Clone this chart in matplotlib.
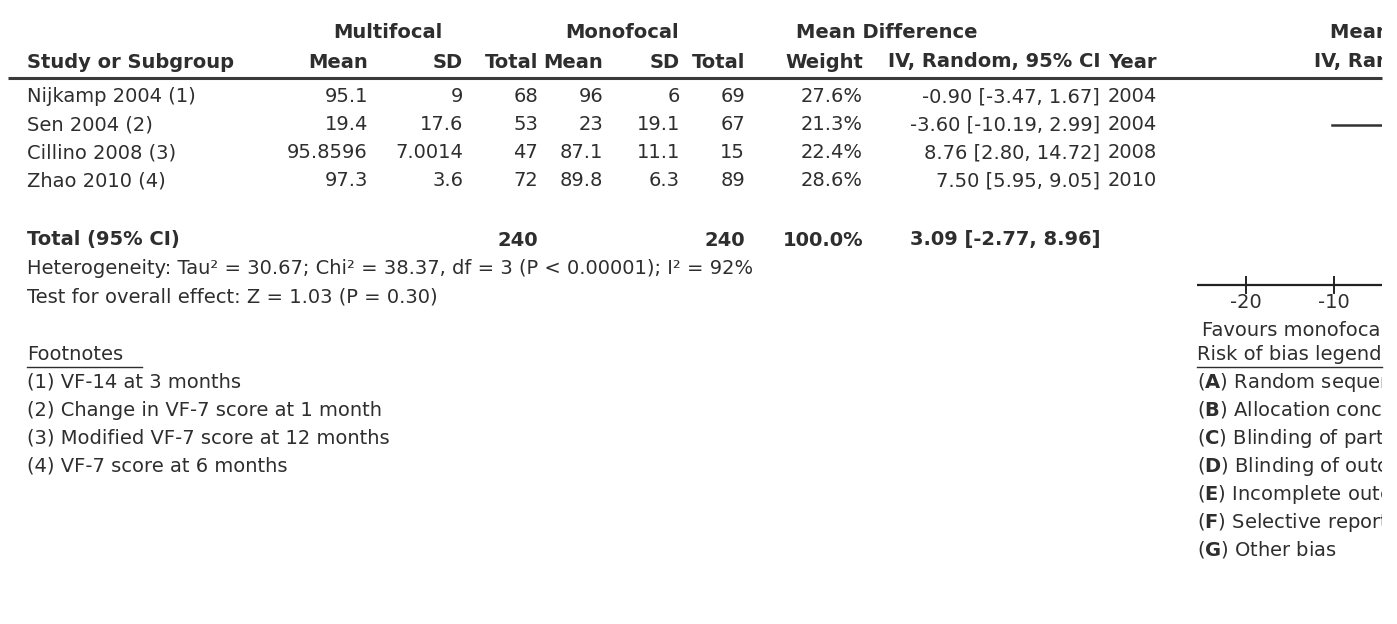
import matplotlib
matplotlib.use("Agg")
import matplotlib.pyplot as plt

# ---------------------------------------------------------------------------
# data
# ---------------------------------------------------------------------------
studies = ["Nijkamp 2004 (1)", "Sen 2004 (2)", "Cillino 2008 (3)", "Zhao 2010 (4)"]
multi_mean = [95.1, 19.4, 95.8596, 97.3]
multi_sd = [9, 17.6, 7.0014, 3.6]
multi_n = [68, 53, 47, 72]
mono_mean = [96, 23, 87.1, 89.8]
mono_sd = [6, 19.1, 11.1, 6.3]
mono_n = [69, 67, 15, 89]
weight = [27.6, 21.3, 22.4, 28.6]
md = [-0.90, -3.60, 8.76, 7.50]
ci_lo = [-3.47, -10.19, 2.80, 5.95]
ci_hi = [1.67, 2.99, 14.72, 9.05]
years = [2004, 2004, 2008, 2010]

total_multi_n = 240
total_mono_n = 240
total_weight = 100.0
total_md, total_lo, total_hi = 3.09, -2.77, 8.96

heterogeneity = "Heterogeneity: Tau\u00b2 = 30.67; Chi\u00b2 = 38.37, df = 3 (P < 0.00001); I\u00b2 = 92%"
overall = "Test for overall effect: Z = 1.03 (P = 0.30)"
footnotes = ["(1) VF-14 at 3 months",
             "(2) Change in VF-7 score at 1 month",
             "(3) Modified VF-7 score at 12 months",
             "(4) VF-7 score at 6 months"]
bias_letters = ["A", "B", "C", "D", "E", "F", "G"]
bias_items = ["Random sequence generation (selection bias)",
              "Allocation concealment (selection bias)",
              "Blinding of participants and personnel (performance bias)",
              "Blinding of outcome assessment (detection bias)",
              "Incomplete outcome data (attrition bias)",
              "Selective reporting (reporting bias)",
              "Other bias"]
ticks = [-20, -10, 0, 10, 20]
favours = ["Favours monofocal", "Favours multifocal"]

# ---------------------------------------------------------------------------
# layout (pixels)
# ---------------------------------------------------------------------------
W, H = 1397, 624
TXT = "#2e2e2e"
FS = 14
plt.rcParams['font.family'] = ['DejaVu Sans']

row_y = [97, 125, 153, 181]
total_y = 240
col_right = {"mm": 368, "msd": 463, "mn": 538, "om": 603, "osd": 680,
             "on": 745, "w": 863, "ci": 1100}
year_x = 1108

fig = plt.figure(figsize=(W / 100, H / 100), dpi=100)
ax = fig.add_axes([0, 0, 1, 1])
ax.set_xlim(0, W)
ax.set_ylim(H, 0)
ax.axis('off')

# forest panel, cut at the right edge like the source picture
px_per_unit = 8.83
fl, fr = 1197, 1382
x_lo = -25.5
fx = fig.add_axes([fl / W, 0, (fr - fl) / W, 1])
fx.set_xlim(x_lo, x_lo + (fr - fl) / px_per_unit)
fx.set_ylim(H, 0)
fx.axis('off')


def t(x, y, s, ha='left', bold=False, **kw):
    ax.text(x, y, s, ha=ha, va='center', fontsize=FS, color=TXT,
            fontweight='bold' if bold else 'normal', **kw)


def fmt(v):
    return "{:g}".format(v)


# headers
t(388, 33, "Multifocal", ha='center', bold=True)
t(622, 33, "Monofocal", ha='center', bold=True)
t(887, 33, "Mean Difference", ha='center', bold=True)
t(27, 62, "Study or Subgroup", bold=True)
t(col_right["mm"], 62, "Mean", ha='right', bold=True)
t(col_right["msd"], 62, "SD", ha='right', bold=True)
t(col_right["mn"], 62, "Total", ha='right', bold=True)
t(col_right["om"], 62, "Mean", ha='right', bold=True)
t(col_right["osd"], 62, "SD", ha='right', bold=True)
t(col_right["on"], 62, "Total", ha='right', bold=True)
t(col_right["w"], 62, "Weight", ha='right', bold=True)
t(col_right["ci"], 62, "IV, Random, 95% CI", ha='right', bold=True)
t(year_x, 62, "Year", bold=True)
ax.plot([8, fr], [78, 78], color="#3a3a3a", lw=2.2, solid_capstyle='butt')

# study rows
for i, y in enumerate(row_y):
    t(27, y, studies[i])
    t(col_right["mm"], y, fmt(multi_mean[i]), ha='right')
    t(col_right["msd"], y, fmt(multi_sd[i]), ha='right')
    t(col_right["mn"], y, str(multi_n[i]), ha='right')
    t(col_right["om"], y, fmt(mono_mean[i]), ha='right')
    t(col_right["osd"], y, fmt(mono_sd[i]), ha='right')
    t(col_right["on"], y, str(mono_n[i]), ha='right')
    t(col_right["w"], y, "{:.1f}%".format(weight[i]), ha='right')
    t(col_right["ci"], y, "{:.2f} [{:.2f}, {:.2f}]".format(md[i], ci_lo[i], ci_hi[i]), ha='right')
    t(year_x, y, str(years[i]))

# total row
t(27, total_y, "Total (95% CI)", bold=True)
t(col_right["mn"], total_y, str(total_multi_n), ha='right', bold=True)
t(col_right["on"], total_y, str(total_mono_n), ha='right', bold=True)
t(col_right["w"], total_y, "{:.1f}%".format(total_weight), ha='right', bold=True)
t(col_right["ci"], total_y, "{:.2f} [{:.2f}, {:.2f}]".format(total_md, total_lo, total_hi),
  ha='right', bold=True)
t(27, 268, heterogeneity)
t(27, 297, overall)

# footnotes
t(27, 354, "Footnotes")
ax.plot([27, 142], [367, 367], color=TXT, lw=1)
for k, s in enumerate(footnotes):
    t(27, 382 + 28 * k, s)

# ---------------------------------------------------------------------------
# forest plot (right, clipped)
# ---------------------------------------------------------------------------
def ft(x, y, s, ha='left', bold=False):
    fx.text(x, y, s, ha=ha, va='center', fontsize=FS, color=TXT,
            fontweight='bold' if bold else 'normal', clip_on=True,
            transform=ax.transData)


ft(1330, 33, "Mean Difference", bold=True)
ft(1314, 62, "IV, Random, 95% CI", bold=True)

fx.plot([0, 0], [85, 285], color="#333333", lw=1)
for i, y in enumerate(row_y):
    fx.plot([ci_lo[i], ci_hi[i]], [y, y], color="#333333", lw=1.8)
    fx.scatter([md[i]], [y], marker='s', s=weight[i] * 3, color="#2e8b2e", zorder=3)
fx.fill([total_lo, total_md, total_hi, total_md],
        [total_y, total_y - 7, total_y, total_y + 7], color="#222222")

fx.plot([x_lo, ticks[-1]], [285, 285], color="#222222", lw=1.6)
for tk in ticks:
    fx.plot([tk, tk], [277, 293], color="#222222", lw=1.4)
    fx.text(tk, 303, str(tk), ha='center', va='center', fontsize=FS, color=TXT, clip_on=True)
ft(1202, 330, favours[0])
fx.text(10, 330, favours[1], ha='center', va='center', fontsize=FS, color=TXT, clip_on=True)

ft(1197, 354, "Risk of bias legend")
ax.plot([1197, fr], [367, 367], color=TXT, lw=1)
for k, (letter, s) in enumerate(zip(bias_letters, bias_items)):
    ft(1197, 382 + 28 * k, "(" + r"$\mathbf{" + letter + "}$" + ") " + s)

fig.savefig("out.png", dpi=100)
